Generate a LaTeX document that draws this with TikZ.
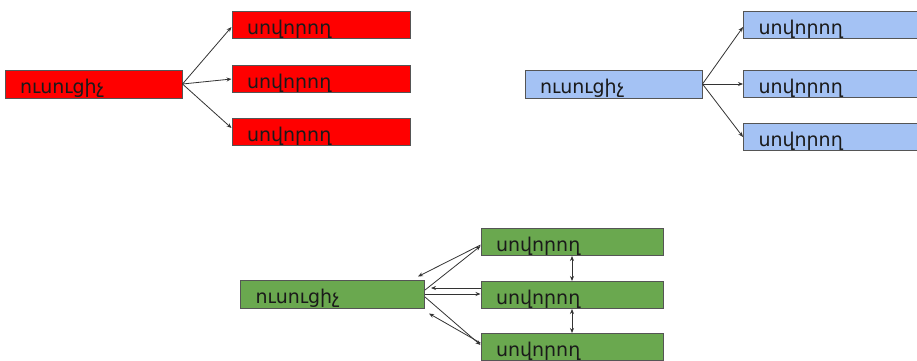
\documentclass[tikz,border=0pt]{standalone}
\usepackage{fontspec}
\newfontfamily\armfont{DejaVu Sans}
\usetikzlibrary{arrows.meta,calc}
\definecolor{redfill}{HTML}{FF0000}
\definecolor{bluefill}{HTML}{A4C2F4}
\definecolor{greenfill}{HTML}{6AA84F}
\definecolor{edgegray}{HTML}{555555}
\definecolor{linegray}{HTML}{333333}
\definecolor{textdark}{HTML}{1A1A1A}
\tikzset{
  box/.style={draw=edgegray, line width=1pt, rectangle, minimum height=#1, inner xsep=15pt, inner ysep=0pt,
    font=\armfont\fontsize{19}{19}\selectfont, text=textdark, align=left, anchor=center,
    text height=19pt, text depth=0pt},
  tbox/.style={box=28pt, text width=147pt},
  sbox/.style={box=27pt, text width=148pt},
  arr/.style={draw=linegray, line width=0.8pt, -{Stealth[length=5pt,width=4pt]}},
  darr/.style={draw=linegray, line width=0.8pt, {Stealth[length=5pt,width=4pt]}-{Stealth[length=5pt,width=4pt]}}
}
\begin{document}
\begin{tikzpicture}[x=1pt,y=-1pt]
\useasboundingbox (0,0) rectangle (917,360);
% red
\node[tbox, fill=redfill] (rt) at (93.5,84) {ուսուցիչ};
\node[sbox, fill=redfill] (rs1) at (321,25) {սովորող};
\node[sbox, fill=redfill] (rs2) at (321,78.5) {սովորող};
\node[sbox, fill=redfill] (rs3) at (321,131.5) {սովորող};
\draw[arr] (rt.east) -- ($(rs1.west)+(0,2)$);
\draw[arr] (rt.east) -- ($(rs2.west)+(0,0.5)$);
\draw[arr] (rt.east) -- ($(rs3.west)+(0,-3.5)$);
% blue
\node[tbox, fill=bluefill] (bt) at (613.5,84) {ուսուցիչ};
\node[sbox, fill=bluefill] (bs1) at (832.5,25) {սովորող};
\node[sbox, fill=bluefill] (bs2) at (832.5,84) {սովորող};
\node[sbox, fill=bluefill] (bs3) at (832.5,136.5) {սովորող};
\draw[arr] (bt.east) -- ($(bs1.west)+(0,2)$);
\draw[arr] (bt.east) -- (bs2.west);
\draw[arr] (bt.east) -- ($(bs3.west)+(0,0.5)$);
% green
\node[tbox, fill=greenfill, text width=154pt] (gt) at (332.5,294) {ուսուցիչ};
\node[sbox, fill=greenfill, text width=152pt] (gs1) at (572,242) {սովորող};
\node[sbox, fill=greenfill, text width=152pt] (gs2) at (572,295) {սովորող};
\node[sbox, fill=greenfill, text width=152pt] (gs3) at (572,347) {սովորող};
\draw[arr] ($(gs1.west)+(0,3)$) -- ($(gt.north east)+(-7,-3)$);
\draw[arr] ($(gt.east)+(0,-4)$) -- ($(gs1.west)+(0,4)$);
\draw[arr] ($(gs2.west)+(0,-7)$) coordinate (m1) -- ($(m1 -| gt.east)+(6,0)$);
\draw[arr] ($(gt.east)+(0,0)$) coordinate (m2) -- (m2 -| gs2.west);
\draw[arr] ($(gs3.west)+(0,-4)$) -- ($(gt.south east)+(4,5)$);
\draw[arr] ($(gt.east)+(0,3)$) -- ($(gs3.west)+(0,-2)$);
\draw[darr] (gs1.south) -- (gs2.north);
\draw[darr] (gs2.south) -- (gs3.north);
\end{tikzpicture}
\end{document}
